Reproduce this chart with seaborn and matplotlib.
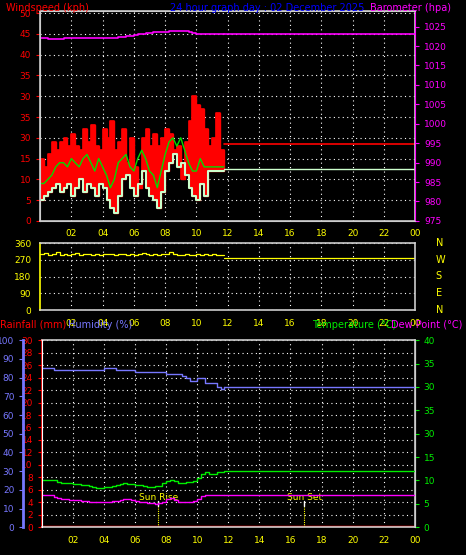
import numpy as np
import pandas as pd
import matplotlib
matplotlib.use("Agg")
import matplotlib.pyplot as plt
import seaborn as sns

# ── Data (15-minute steps from 00:00 to 11:45) ──
hours = np.arange(0.0, 12.0, 0.25)
gust = [15, 13, 16, 19, 17, 19, 20, 18, 21, 18, 17, 22, 19, 23, 18, 17,
        22, 20, 24, 17, 19, 22, 14, 20, 13, 8, 20, 22, 18, 21, 18, 20,
        22, 21, 17, 18, 10, 19, 24, 30, 28, 27, 22, 18, 20, 26, 17, 17]
avg = [9, 9, 10, 11, 13, 14, 14, 13, 15, 14, 13, 15, 16, 14, 12, 15,
       13, 11, 8, 10, 14, 15, 16, 13, 12, 15, 17, 15, 12, 11, 8, 12,
       16, 19, 20, 18, 20, 17, 14, 12, 12, 15, 13, 13, 13, 13, 13, 13]
speed = [5, 6, 7, 8, 9, 7, 8, 9, 6, 8, 10, 7, 9, 8, 6, 9,
         8, 5, 3, 2, 6, 10, 11, 8, 6, 9, 12, 8, 6, 5, 3, 7,
         12, 14, 16, 13, 14, 11, 8, 6, 5, 9, 6, 12, 12, 12, 12, 12]
baro = [1022.0, 1022.0, 1021.8, 1021.8, 1021.8, 1021.8, 1022.0, 1022.0,
        1022.0, 1022.0, 1022.0, 1022.0, 1022.0, 1022.0, 1022.0, 1022.0,
        1022.0, 1022.0, 1022.0, 1022.0, 1022.3, 1022.4, 1022.5, 1022.6,
        1022.8, 1023.0, 1023.2, 1023.3, 1023.4, 1023.5, 1023.5, 1023.6,
        1023.7, 1023.8, 1023.8, 1023.9, 1023.9, 1024.0, 1023.7, 1023.4,
        1023.2, 1023.2, 1023.2, 1023.2, 1023.2, 1023.2, 1023.2, 1023.2]
wdir = [300, 305, 295, 300, 310, 298, 302, 296, 300, 305, 297, 300,
        303, 298, 300, 296, 302, 299, 301, 297, 303, 300, 295, 302,
        298, 300, 305, 299, 296, 301, 298, 303, 300, 310, 304, 298,
        296, 300, 295, 298, 302, 297, 300, 296, 299, 298, 295, 296]
humidity = [85, 85, 85, 84, 84, 84, 84, 84, 84, 84, 84, 84, 84, 84, 84, 84,
            85, 85, 85, 84, 84, 84, 84, 84, 83, 83, 83, 83, 83, 83, 83, 83,
            82, 82, 82, 82, 81, 80, 78, 78, 80, 80, 77, 77, 77, 75, 74, 75]
temp = [10, 10, 10, 10, 9.7, 9.5, 9.5, 9.5, 9.3, 9.2, 9.0, 9.0, 8.8, 8.7,
        8.5, 8.5, 8.6, 8.7, 8.8, 9.0, 9.3, 9.5, 9.3, 9.2, 9.0, 9.0, 8.8,
        8.7, 8.7, 8.8, 8.9, 9.4, 9.9, 10.2, 9.9, 9.4, 9.4, 9.6, 9.6, 9.8,
        10.6, 11.3, 11.8, 11.3, 11.4, 11.8, 11.8, 11.8]
dew = [7, 7, 7, 6.5, 6.2, 6.0, 6.0, 5.9, 5.9, 5.8, 5.7, 5.6, 5.5, 5.5,
       5.4, 5.3, 5.4, 5.5, 5.6, 5.6, 5.8, 6.0, 6.0, 5.8, 5.6, 5.4, 5.3,
       5.2, 5.1, 5.0, 5.1, 5.5, 6.0, 6.2, 5.8, 5.5, 5.3, 5.3, 5.5, 5.6,
       6.0, 6.6, 7.0, 6.8, 6.8, 7.0, 7.0, 7.0]
rain = [0.0] * 48

# flat continuation after last reading (12:00 → 24:00)
tail_hours = [11.75, 24.0]
gust_tail = [18.5, 18.5]
speed_tail = [12.5, 12.5]
baro_tail = [1023.2, 1023.2]
wdir_tail = [280, 280]
hum_tail = [75, 75]
temp_tail = [12, 12]
dew_tail = [7, 7]
rain_tail = [0, 0]

hour_ticks = list(range(2, 25, 2))
hour_labels = ["02", "04", "06", "08", "10", "12", "14", "16", "18", "20", "22", "00"]
wind_ticks = list(range(0, 51, 5))
wind_labels = ["0", "5", "10", "15", "30", "35", "30", "35", "40", "45", "50"]
baro_ticks = list(range(975, 1026, 5))
wdir_ticks = [0, 90, 180, 270, 360]
hum_ticks = list(range(0, 101, 10))
rain_ticks = list(range(0, 31, 2))
temp_ticks = list(range(0, 41, 5))
temp_labels = ["0", "5", "10", "15", "30", "35", "30", "35", "40"]

df = pd.DataFrame({"h": hours, "gust": gust, "avg": avg, "speed": speed,
                   "baro": baro, "wdir": wdir, "hum": humidity,
                   "temp": temp, "dew": dew, "rain": rain})
tail = pd.DataFrame({"h": tail_hours, "gust": gust_tail, "speed": speed_tail,
                     "baro": baro_tail, "wdir": wdir_tail, "hum": hum_tail,
                     "temp": temp_tail, "dew": dew_tail, "rain": rain_tail})

sns.set_style("dark")
plt.rcParams["font.family"] = ["DejaVu Sans"]
FS = 6.5

fig = plt.figure(figsize=(4.66, 5.55), dpi=100, facecolor="black")


def style(ax, tickcolor="red"):
    ax.set_facecolor("black")
    for s in ax.spines.values():
        s.set_color("#cccccc")
        s.set_linewidth(1.2)
    ax.set_xlim(0, 24)
    ax.set_xticks(hour_ticks)
    ax.set_xticklabels(hour_labels, color="yellow", fontsize=FS)
    ax.tick_params(axis="x", colors="white", length=0, labelcolor="yellow", pad=6)
    ax.tick_params(axis="y", colors=tickcolor, labelsize=FS, length=3)
    ax.grid(True, color="white", linestyle=(0, (1, 3)), linewidth=0.8)
    ax.set_xlabel("")
    ax.set_ylabel("")


def line(ax, col, color, lw=1.0):
    sns.lineplot(data=df, x="h", y=col, ax=ax, color=color, linewidth=lw,
                 drawstyle="steps-post")
    sns.lineplot(data=tail, x="h", y=col, ax=ax, color=color, linewidth=lw)


# ── Wind / barometer panel ──
ax1 = fig.add_axes([0.086, 0.602, 0.805, 0.378])
ax1.fill_between(df["h"], df["speed"], df["gust"], step="post", color="red")
line(ax1, "gust", "red", 1.2)
sns.lineplot(data=df, x="h", y="speed", ax=ax1, color="#ccffcc",
             linewidth=1.5, drawstyle="steps-post")
sns.lineplot(data=tail, x="h", y="speed", ax=ax1, color="#ccffcc", linewidth=1)
sns.lineplot(data=df, x="h", y="avg", ax=ax1, color="#00dd00", linewidth=1)
style(ax1)
ax1.set_ylim(0, 50.5)
ax1.set_yticks(wind_ticks)
ax1.set_yticklabels(wind_labels)
ax1b = ax1.twinx()
line(ax1b, "baro", "magenta", 1.2)
ax1b.set_ylim(975, 1029)
ax1b.set_yticks(baro_ticks)
ax1b.tick_params(axis="y", colors="magenta", labelsize=FS, length=3)
ax1b.set_ylabel("")
for s in ax1b.spines.values():
    s.set_color("#cccccc")
ax1b.spines["right"].set_color("magenta")
fig.text(0.012, 0.985, "Windspeed (kph)", color="red", fontsize=7, va="center")
fig.text(0.365, 0.985, "24 hour graph day : 02 December 2025", color="blue",
         fontsize=7, va="center")
fig.text(0.795, 0.985, "Barometer (hpa)", color="magenta", fontsize=7, va="center")

# ── Wind direction panel ──
ax2 = fig.add_axes([0.086, 0.441, 0.805, 0.121])
line(ax2, "wdir", "yellow", 0.9)
style(ax2, "yellow")
ax2.set_ylim(0, 360)
ax2.set_yticks(wdir_ticks)
ax2.spines["left"].set_color("yellow")
for i, lab in enumerate(["N", "W", "S", "E", "N"]):
    fig.text(0.935, 0.562 - i * 0.03, lab, color="yellow", fontsize=7, va="center")

# ── Humidity / rain / temperature panel ──
ax3 = fig.add_axes([0.09, 0.05, 0.80, 0.337])
line(ax3, "rain", "red", 2.5)
style(ax3)
ax3.set_ylim(0, 30)
ax3.set_yticks(rain_ticks)
ax3.spines["left"].set_color("red")
ax3h = ax3.twinx()
line(ax3h, "hum", "#7777ff", 1.0)
ax3h.set_ylim(0, 100)
ax3h.set_yticks(hum_ticks)
ax3h.yaxis.set_ticks_position("left")
ax3h.spines["left"].set_position(("axes", -0.05))
ax3h.spines["left"].set_color("#7777ff")
ax3h.spines["left"].set_linewidth(2)
ax3h.tick_params(axis="y", colors="#7777ff", labelsize=FS, length=3)
ax3h.set_ylabel("")
ax3t = ax3.twinx()
line(ax3t, "temp", "#00ee00", 1.0)
line(ax3t, "dew", "magenta", 1.0)
ax3t.set_ylim(0, 40)
ax3t.set_yticks(temp_ticks)
ax3t.set_yticklabels(temp_labels)
ax3t.tick_params(axis="y", colors="#00ee00", labelsize=FS, length=3)
ax3t.set_ylabel("")
for a in (ax3h, ax3t):
    for k in ("top", "bottom"):
        a.spines[k].set_visible(False)
    a.spines["right"].set_color("#cccccc")
for x, lab in [(7.5, "Sun Rise"), (16.9, "Sun Set")]:
    ax3.plot([x, x], [0, 4.2], color="yellow", linestyle=(0, (1, 1)), linewidth=0.8)
    ax3.plot([x, x], [3.4, 4.2], color="white", linewidth=1)
    ax3.text(x, 4.4, lab, color="yellow", fontsize=6.5, ha="center")
fig.text(0.0, 0.415, "Rainfall (mm)", color="red", fontsize=7, va="center")
fig.text(0.145, 0.415, "Humidity (%)", color="#7777ff", fontsize=7, va="center")
fig.text(0.67, 0.415, "Temperature (°C)", color="#00ee00", fontsize=7, va="center")
fig.text(0.838, 0.415, "Dew Point (°C)", color="magenta", fontsize=7, va="center")

fig.savefig("out.png", dpi=100, facecolor="black")
